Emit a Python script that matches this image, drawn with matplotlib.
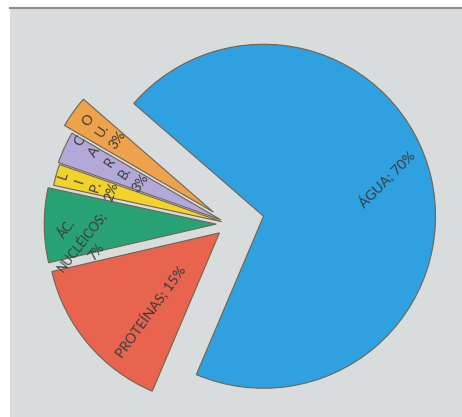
import matplotlib
matplotlib.use("Agg")
import matplotlib.pyplot as plt
import numpy as np

# ---- data ----
categories = ["ÁGUA", "OU.", "CARB.", "LIP.", "ÁC. NUCLÉICOS", "PROTEÍNAS"]
values = [70, 3, 3, 2, 7, 15]
label_texts = ["ÁGUA; 70%", "O\nU.\n3%", "C\nA\nR\nB.\n3%", "L\nI\nP.\n2%",
               "ÁC.\nNUCLÉICOS;\n7%", "PROTEÍNAS; 15%"]

# ---- style ----
colors = ["#2FA1E0", "#EEA24C", "#B3A9D8", "#F2D22C", "#28A274", "#E8644F"]
explode = [0.20, 0.12, 0.06, 0.05, 0.08, 0.08]
label_frac = [0.75, 0.80, 0.725, 0.81, 0.79, 0.61]
label_dtheta = [3.8, -1.0, -2.7, 0.0, 6.5, 8.7]
label_rot = [45, 56, 56, 72, 52, 54]
label_ls = [1.0, 1.6, 1.65, 1.5, 1.5, 1.0]
label_size = [10, 10, 10, 10, 9, 10]

W, H = 462, 417
fig = plt.figure(figsize=(W / 100, H / 100), dpi=100)
fig.patch.set_facecolor("white")

scale = 172.0
cx_img, cy_img = 230.0, 224.0
left, right, top, bottom = 10, 462, 8, 417
ax = fig.add_axes([left / W, 0, (right - left) / W, (bottom - top) / H])
ax.set_facecolor("#D9DCDC")

wedges, _ = ax.pie(values, explode=explode, colors=colors, startangle=-113,
                   counterclock=True, radius=1.0, center=(0, 0), frame=True,
                   wedgeprops=dict(edgecolor="#6E6452", linewidth=0.8))
ax.set_xlim((left - cx_img) / scale, (right - cx_img) / scale)
ax.set_ylim((cy_img - bottom) / scale, (cy_img - top) / scale)
ax.set_aspect("equal", adjustable="box")
ax.set_xticks([])
ax.set_yticks([])
for side in ["left", "right", "bottom"]:
    ax.spines[side].set_visible(False)
ax.spines["top"].set_color("#8E8E8E")
ax.spines["top"].set_linewidth(1.5)

for w, txt, f, dt, rot, ls, fs in zip(wedges, label_texts, label_frac,
                                      label_dtheta, label_rot, label_ls,
                                      label_size):
    cx, cy = w.center
    ang = np.deg2rad((w.theta1 + w.theta2) / 2 + dt)
    x = cx + f * w.r * np.cos(ang)
    y = cy + f * w.r * np.sin(ang)
    ax.text(x, y, txt, rotation=rot, ha="center", va="center",
            rotation_mode="anchor", multialignment="center", linespacing=ls,
            fontsize=fs, color="#3A3A3A", family=["Lato", "DejaVu Sans"])

fig.savefig("out.png", dpi=100, facecolor=fig.get_facecolor())
